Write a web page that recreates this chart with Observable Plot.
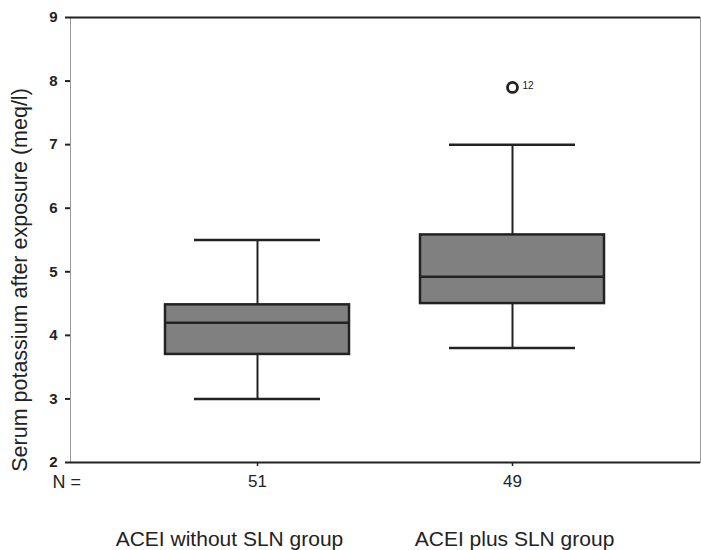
<!DOCTYPE html>
<html>
<head>
<meta charset="utf-8">
<script src="https://cdn.jsdelivr.net/npm/d3@7"></script>
<script src="https://cdn.jsdelivr.net/npm/@observablehq/plot@0.6"></script>
<style>
  html, body { margin: 0; padding: 0; background: #fff; }
  #chart svg { display: block; }
</style>
</head>
<body>
<div id="chart"></div>
<script>
const groups = ["ACEI without SLN group", "ACEI plus SLN group"];
const nValues = [51, 49];
const whiskerLow = [3.0, 3.8];
const q1 = [3.7, 4.5];
const median = [4.2, 4.92];
const q3 = [4.48, 5.58];
const whiskerHigh = [5.5, 7.0];
const outlierGroup = ["ACEI plus SLN group"];
const outlierValue = [7.9];
const outlierLabel = ["12"];
const yTicks = [2, 3, 4, 5, 6, 7, 8, 9];
const yLabel = "Serum potassium after exposure (meq/l)";

const boxes = groups.map((g, i) => ({
  group: g, n: nValues[i], lo: whiskerLow[i], q1: q1[i], med: median[i], q3: q3[i], hi: whiskerHigh[i]
}));
const outliers = outlierGroup.map((g, i) => ({group: g, value: outlierValue[i], label: outlierLabel[i]}));

const ink = "#222";
const chart = Plot.plot({
  width: 701,
  height: 550,
  marginLeft: 70,
  marginRight: 1,
  marginTop: 17,
  marginBottom: 88,
  style: {fontFamily: "'Liberation Sans', Arial, sans-serif", color: ink, background: "#fff"},
  x: {type: "band", domain: groups, paddingInner: 0.278, paddingOuter: 0.37},
  y: {domain: [2, 9]},
  marks: [
    Plot.frame({stroke: "#9a9a9a", strokeWidth: 1}),
    Plot.ruleY([2, 9], {stroke: ink, strokeWidth: 2.2}),
    Plot.axisY({ticks: yTicks, tickFormat: "d", tickSize: 5, tickPadding: 8, fontSize: 15, fontWeight: 600, line: true, stroke: ink, strokeWidth: 2, label: null}),
    Plot.axisX({tickSize: 4, tickPadding: 8, fontSize: 17, stroke: ink, strokeWidth: 1.5, label: null,
      tickFormat: d => String(nValues[groups.indexOf(d)])}),
    // whiskers
    Plot.ruleX(boxes, {x: "group", y1: "q3", y2: "hi", stroke: ink, strokeWidth: 2}),
    Plot.ruleX(boxes, {x: "group", y1: "lo", y2: "q1", stroke: ink, strokeWidth: 2}),
    Plot.tickY(boxes, {x: "group", y: "hi", stroke: ink, strokeWidth: 2.5, insetLeft: 29, insetRight: 29}),
    Plot.tickY(boxes, {x: "group", y: "lo", stroke: ink, strokeWidth: 2.5, insetLeft: 29, insetRight: 29}),
    // boxes
    Plot.barY(boxes, {x: "group", y1: "q1", y2: "q3", fill: "#808080", stroke: ink, strokeWidth: 2.5}),
    Plot.tickY(boxes, {x: "group", y: "med", stroke: ink, strokeWidth: 2.5}),
    // outlier
    Plot.dot(outliers, {x: "group", y: "value", r: 5, stroke: ink, strokeWidth: 2.8, fill: "none"}),
    Plot.text(outliers, {x: "group", y: "value", text: "label", dx: 10, dy: -2, textAnchor: "start", fontSize: 10, fill: ink}),
    // N = label
    Plot.text(["N ="], {frameAnchor: "bottom-left", textAnchor: "start", lineAnchor: "middle", dx: -18, dy: 20, fontSize: 18, fill: ink}),
    // group labels
    Plot.text([groups[0]], {x: d => d, frameAnchor: "bottom", lineAnchor: "bottom", dy: 83, dx: -28, fontSize: 21, fill: ink}),
    Plot.text([groups[1]], {x: d => d, frameAnchor: "bottom", lineAnchor: "bottom", dy: 83, dx: 2, fontSize: 21, fill: ink}),
    // y label
    Plot.text([yLabel], {frameAnchor: "left", textAnchor: "middle", rotate: -90, lineAnchor: "middle", dx: -50, dy: 40, fontSize: 21.5, fill: ink})
  ]
});
document.getElementById("chart").appendChild(chart);
</script>
</body>
</html>
